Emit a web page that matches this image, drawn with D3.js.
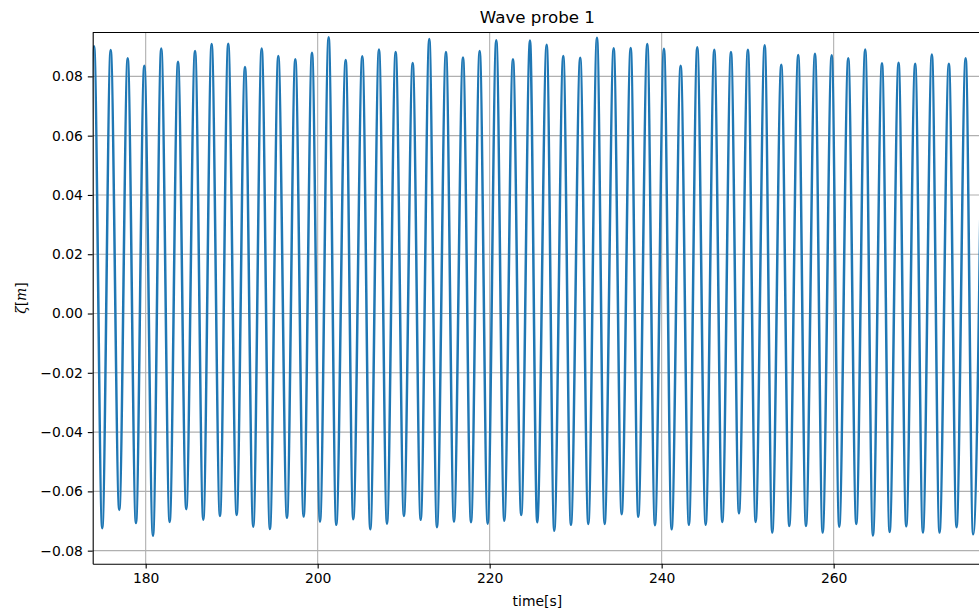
<!DOCTYPE html>
<html>
<head>
<meta charset="utf-8">
<script src="https://d3js.org/d3.v7.min.js"></script>
<style>
  body { margin: 0; background: #fff; }
  text { font-family: "DejaVu Sans", sans-serif; fill: #000; }
</style>
</head>
<body>
<div id="chart"></div>
<script>
// crests and troughs
var crestTime = [174.00, 175.93, 177.91, 179.84, 181.81, 183.76, 185.74, 187.67, 189.60, 191.55,
  193.49, 195.42, 197.40, 199.34, 201.28, 203.26, 205.19, 207.13, 209.07, 211.05,
  212.98, 214.92, 216.90, 218.84, 220.77, 222.71, 224.69, 226.63, 228.56, 230.53,
  232.48, 234.42, 236.40, 238.33, 240.27, 242.21, 244.14, 246.12, 248.06, 250.03,
  251.98, 253.91, 255.88, 257.83, 259.77, 261.70, 263.67, 265.62, 267.55, 269.48,
  271.42, 273.40, 275.35, 277.30];
var crestValue = [0.0902, 0.0889, 0.0861, 0.0836, 0.0894, 0.0849, 0.0886, 0.0909, 0.0910, 0.0832,
  0.0894, 0.0869, 0.0858, 0.0880, 0.0932, 0.0855, 0.0868, 0.0891, 0.0882, 0.0845,
  0.0926, 0.0882, 0.0864, 0.0886, 0.0922, 0.0858, 0.0921, 0.0907, 0.0869, 0.0863,
  0.0930, 0.0895, 0.0896, 0.0909, 0.0893, 0.0836, 0.0898, 0.0890, 0.0882, 0.0890,
  0.0905, 0.0839, 0.0872, 0.0876, 0.0871, 0.0861, 0.0891, 0.0844, 0.0846, 0.0843,
  0.0874, 0.0843, 0.0861, 0.0875];
var troughTime = [173.03, 174.95, 176.93, 178.87, 180.85, 182.79, 184.72, 186.70, 188.64, 190.58,
  192.51, 194.45, 196.43, 198.37, 200.27, 202.16, 204.14, 206.12, 208.06, 210.03,
  211.98, 213.87, 215.85, 217.83, 219.77, 221.70, 223.67, 225.53, 227.51, 229.45,
  231.47, 233.37, 235.35, 237.28, 239.22, 241.16, 243.17, 245.12, 247.05, 248.99,
  250.93, 252.86, 254.84, 256.78, 258.72, 260.65, 262.63, 264.57, 266.51, 268.44,
  270.38, 272.31, 274.29, 276.22];
var troughValue = [-0.0700, -0.0724, -0.0663, -0.0707, -0.0750, -0.0703, -0.0660, -0.0696, -0.0683, -0.0680,
  -0.0719, -0.0727, -0.0689, -0.0685, -0.0702, -0.0713, -0.0694, -0.0728, -0.0709, -0.0683,
  -0.0696, -0.0721, -0.0702, -0.0704, -0.0709, -0.0699, -0.0680, -0.0704, -0.0733, -0.0713,
  -0.0710, -0.0710, -0.0677, -0.0686, -0.0714, -0.0728, -0.0713, -0.0713, -0.0703, -0.0674,
  -0.0703, -0.0739, -0.0717, -0.0717, -0.0739, -0.0719, -0.0710, -0.0749, -0.0737, -0.0718,
  -0.0739, -0.0739, -0.0721, -0.0745];

var xTicks = [180, 200, 220, 240, 260];
var yTicks = [-0.08, -0.06, -0.04, -0.02, 0.00, 0.02, 0.04, 0.06, 0.08];
var xLimits = [173.84, 277.25];
var yLimits = [-0.0844, 0.0948];

var width = 979, height = 614;
var margin = {top: 32.5, right: -3, bottom: 50.3, left: 92.7};
var plotW = width - margin.left - margin.right;
var plotH = height - margin.top - margin.bottom;

var svg = d3.select("#chart").append("svg")
    .attr("width", width)
    .attr("height", height);

var x = d3.scaleLinear().domain(xLimits).range([0, plotW]);
var y = d3.scaleLinear().domain(yLimits).range([plotH, 0]);

var g = svg.append("g")
    .attr("transform", "translate(" + margin.left + "," + margin.top + ")");

svg.append("defs").append("clipPath").attr("id", "plotclip")
  .append("rect").attr("width", plotW).attr("height", plotH);

// grid
g.append("g").selectAll("line").data(xTicks).enter().append("line")
    .attr("x1", function(d){ return x(d); })
    .attr("x2", function(d){ return x(d); })
    .attr("y1", 0).attr("y2", plotH)
    .attr("stroke", "#b0b0b0").attr("stroke-width", 1.1);
g.append("g").selectAll("line").data(yTicks).enter().append("line")
    .attr("y1", function(d){ return y(d); })
    .attr("y2", function(d){ return y(d); })
    .attr("x1", 0).attr("x2", plotW)
    .attr("stroke", "#b0b0b0").attr("stroke-width", 1.1);

// wave
var pts = [];
crestTime.forEach(function(t, i){ pts.push([t, crestValue[i]]); });
troughTime.forEach(function(t, i){ pts.push([t, troughValue[i]]); });
pts.sort(function(a, b){ return a[0] - b[0]; });

var line = d3.line()
    .x(function(d){ return x(d[0]); })
    .y(function(d){ return y(d[1]); })
    .curve(d3.curveMonotoneX);

g.append("path")
    .datum(pts)
    .attr("clip-path", "url(#plotclip)")
    .attr("d", line)
    .attr("fill", "none")
    .attr("stroke", "#1f77b4")
    .attr("stroke-width", 2.5)
    .attr("stroke-linejoin", "round");

// axes
var xAxis = d3.axisBottom(x).tickValues(xTicks).tickSize(4.9).tickPadding(4.9)
    .tickSizeOuter(0).tickFormat(d3.format("d"));
var yAxis = d3.axisLeft(y).tickValues(yTicks).tickSize(4.9).tickPadding(4.9)
    .tickSizeOuter(0).tickFormat(d3.format(".2f"));

var gx = g.append("g").attr("transform", "translate(0," + plotH + ")").call(xAxis);
var gy = g.append("g").call(yAxis);

[gx, gy].forEach(function(a){
  a.selectAll("text").style("font-family", "DejaVu Sans").style("font-size", "13.9px").attr("fill", "#000");
  a.selectAll("line").attr("stroke", "#000").attr("stroke-width", 1.1);
  a.select(".domain").attr("stroke", "#000").attr("stroke-width", 1.1);
});

// top spine
g.append("line")
    .attr("x1", 0).attr("x2", plotW).attr("y1", 0).attr("y2", 0)
    .attr("stroke", "#000").attr("stroke-width", 1.1);

// labels
svg.append("text")
    .attr("x", margin.left + plotW / 2)
    .attr("y", 23)
    .attr("text-anchor", "middle")
    .style("font-size", "16.7px")
    .text("Wave probe 1");

svg.append("text")
    .attr("x", margin.left + plotW / 2)
    .attr("y", 606)
    .attr("text-anchor", "middle")
    .style("font-size", "13.9px")
    .text("time[s]");

var ylab = svg.append("text")
    .attr("transform", "translate(26," + (margin.top + plotH / 2) + ") rotate(-90)")
    .attr("text-anchor", "middle")
    .style("font-size", "13.9px");
ylab.append("tspan").style("font-style", "italic").style("font-family", "DejaVu Serif").text("ζ");
ylab.append("tspan").text("[");
ylab.append("tspan").style("font-style", "italic").style("font-family", "DejaVu Serif").text("m");
ylab.append("tspan").text("]");
</script>
</body>
</html>
